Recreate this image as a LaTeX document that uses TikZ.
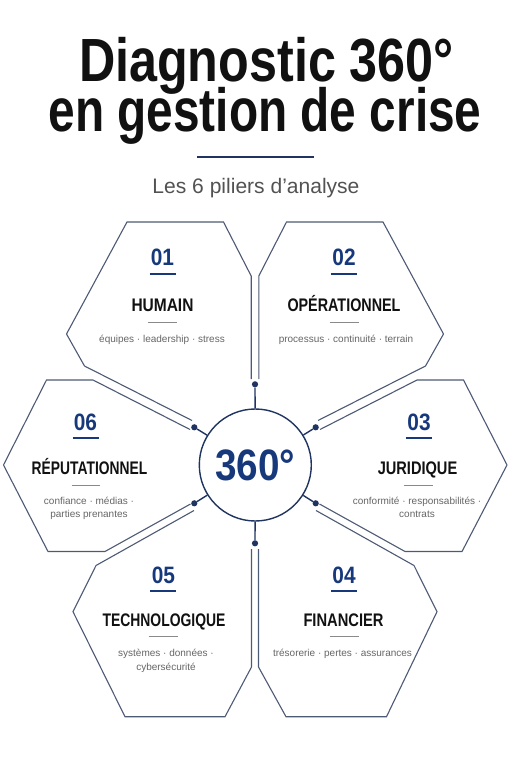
\documentclass[tikz,border=0pt]{standalone}
\usepackage{fontspec}
\setmainfont{Liberation Sans}
\usepackage{graphicx}
\definecolor{navy}{HTML}{17397B}
\definecolor{ringc}{HTML}{1F3461}
\definecolor{petalc}{HTML}{4D5A75}
\definecolor{rulec}{HTML}{8A8A8A}
\definecolor{descc}{HTML}{666666}
\definecolor{titlec}{HTML}{111111}
\newcommand\fitw[2]{\resizebox{#1}{\height}{#2}}
\newcommand\numtxt[1]{{\fontsize{23.7}{24}\selectfont\bfseries\scalebox{0.88}[1]{#1}}}
\newcommand\pillar[2]{{\fontsize{18.2}{19}\selectfont\bfseries\fitw{#1}{#2}}}
\tikzset{
  petal/.style={draw=petalc, line width=1.1pt, line join=miter},
  conn/.style={draw=ringc, line width=1.4pt},
  dotn/.style={circle, fill=ringc, inner sep=0pt, minimum size=6.2pt},
  numn/.style={anchor=base, text=navy, inner sep=0pt},
  ttln/.style={anchor=base, text=titlec, inner sep=0pt},
  descn/.style={anchor=base, text=descc, inner sep=0pt, font=\fontsize{10}{13.4}\selectfont, align=center},
  nrule/.style={draw=navy, line width=2.2pt},
  grule/.style={draw=rulec, line width=1pt},
}
\begin{document}
\begin{tikzpicture}[x=1pt, y=-1pt]
\useasboundingbox[fill=white] (0,0) rectangle (511,768);
% title
\node[anchor=base, text=titlec, inner sep=0pt] (t1) at (266.5,81.7)
  {\fontsize{61}{61}\selectfont\bfseries\raisebox{0pt}[\height][0pt]{\fitw{375pt}{Diagnostic 360°}}};
\node[anchor=base, text=titlec, inner sep=0pt] (t2) at (265,131.7)
  {\fontsize{61}{61}\selectfont\bfseries\fitw{433pt}{en gestion de crise}};
\draw[draw=ringc, line width=2pt] (197,156.7) -- (314,156.7);
\node[anchor=base, text=black!68, inner sep=0pt] (sub) at (256,193)
  {\fontsize{21}{21}\selectfont\fitw{207pt}{Les 6 piliers d’analyse}};

% petals
\draw[petal] (251.2,379) -- (251.2,276) -- (223.5,222) -- (127,222) -- (66.5,334) -- (84.5,366) -- (192,420.5);
\draw[petal] (258.8,379) -- (258.8,276) -- (286.5,222) -- (383,222) -- (443.5,334) -- (425.5,366) -- (318,420.5);
\draw[petal] (190,429.5) -- (93,380) -- (46.5,380) -- (3.5,465) -- (48,551.5) -- (105,551.5) -- (190.5,504);
\draw[petal] (320,429.5) -- (417,380) -- (463.5,380) -- (507,465) -- (462,551.5) -- (405,551.5) -- (319.5,504);
\draw[petal] (194,510.5) -- (96,565.5) -- (73,611.7) -- (125,716.7) -- (225,716.7) -- (251.5,667) -- (251.5,549);
\draw[petal] (316,510.5) -- (414,565.5) -- (437,611.7) -- (386.5,716.7) -- (286,716.7) -- (258.5,667) -- (258.5,549);

% centre
\node[circle, draw=ringc, line width=1.4pt, minimum size=112pt, inner sep=0pt, text=navy] (c) at (255.3,465)
  {\fontsize{44}{44}\selectfont\bfseries\fitw{80pt}{360°}};
\node[dotn] (d1) at (255,384.3) {};
\node[dotn] (d2) at (315.7,427.3) {};
\node[dotn] (d3) at (315.7,503.3) {};
\node[dotn] (d4) at (255,543.3) {};
\node[dotn] (d5) at (194.3,503.3) {};
\node[dotn] (d6) at (194.3,427.3) {};
\foreach \d in {d1,d2,d3,d4,d5,d6} \draw[conn] (c) -- (\d);

% pillar 01
\node[numn] (n1) at (162.5,265) {\numtxt{01}};
\draw[nrule] (149.5,274) -- (175.5,274);
\node[ttln] (h1) at (162.5,311) {\pillar{62pt}{HUMAIN}};
\draw[grule] (148,322.3) -- (177,322.3);
\node[descn] (s1) at (162,342.7) {équipes · leadership · stress};

% pillar 02
\node[numn] (n2) at (344,265) {\numtxt{02}};
\draw[nrule] (331,274) -- (357,274);
\node[ttln] (h2) at (344,311) {\pillar{113pt}{OPÉRATIONNEL}};
\draw[grule] (329.5,322.3) -- (358.5,322.3);
\node[descn] (s2) at (346,342.7) {processus · continuité · terrain};

% pillar 06
\node[numn] (n6) at (85.5,430) {\numtxt{06}};
\draw[nrule] (72.5,438.3) -- (98.5,438.3);
\node[ttln] (h6) at (89.5,474) {\pillar{115.5pt}{RÉPUTATIONNEL}};
\draw[grule] (71.5,485) -- (100,485);
\node[descn] (s6) at (89,517.7) {confiance · médias ·\\parties prenantes};

% pillar 03
\node[numn] (n3) at (419,430) {\numtxt{03}};
\draw[nrule] (405.5,438.3) -- (431.5,438.3);
\node[ttln] (h3) at (417.5,474) {\pillar{79.5pt}{JURIDIQUE}};
\draw[grule] (404,485) -- (433,485);
\node[descn] (s3) at (417,517.7) {conformité · responsabilités ·\\contrats};

% pillar 05
\node[numn] (n5) at (163.5,583.3) {\numtxt{05}};
\draw[nrule] (150,590.7) -- (176,590.7);
\node[ttln] (h5) at (164,626) {\pillar{123pt}{TECHNOLOGIQUE}};
\draw[grule] (148.5,636.7) -- (177.5,636.7);
\node[descn] (s5) at (166,670) {systèmes · données ·\\cybersécurité};

% pillar 04
\node[numn] (n4) at (344,583.3) {\numtxt{04}};
\draw[nrule] (331,590.7) -- (357,590.7);
\node[ttln] (h4) at (343.5,626) {\pillar{80pt}{FINANCIER}};
\draw[grule] (329.5,636.7) -- (358.5,636.7);
\node[descn] (s4) at (342.5,656.7) {trésorerie · pertes · assurances};
\end{tikzpicture}
\end{document}
